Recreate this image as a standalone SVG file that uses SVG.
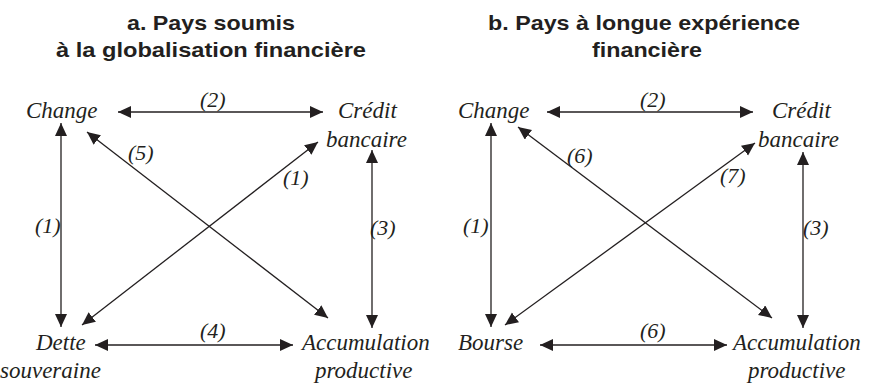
<svg xmlns="http://www.w3.org/2000/svg" width="869" height="384" viewBox="0 0 869 384">
<style>
.t{font-family:"Liberation Sans",Arial,sans-serif;font-weight:bold;font-size:21px;fill:#231f20;text-anchor:middle}
.n{font-family:"Liberation Serif","Times New Roman","DejaVu Serif",serif;font-style:italic;font-size:23px;fill:#231f20}
.l{font-family:"Liberation Serif","Times New Roman","DejaVu Serif",serif;font-style:italic;font-size:22px;fill:#231f20}
.c line{stroke:#231f20;stroke-width:1.3;fill:none;marker-start:url(#ah);marker-end:url(#ah)}
</style>
<defs>
<marker id="ah" markerUnits="userSpaceOnUse" markerWidth="14" markerHeight="13" refX="13" refY="6" orient="auto-start-reverse" viewBox="0 0 14 13">
<path d="M0,0 L13,6 L0,12 z" fill="#231f20"/>
</marker>
</defs>
<rect width="869" height="384" fill="#fff"/>
<g id="titles">
<text class="t" x="211" y="30" textLength="168" lengthAdjust="spacingAndGlyphs">a. Pays soumis</text>
<text class="t" x="211" y="57" textLength="310" lengthAdjust="spacingAndGlyphs">à la globalisation financière</text>
<text class="t" x="644" y="30" textLength="312" lengthAdjust="spacingAndGlyphs">b. Pays à longue expérience</text>
<text class="t" x="647" y="57" textLength="110" lengthAdjust="spacingAndGlyphs">financière</text>
</g>
<g id="a-change"><text class="n" x="26" y="118">Change</text></g>
<g id="a-credit"><text class="n" x="338" y="118">Crédit</text><text class="n" x="326" y="147">bancaire</text></g>
<g id="a-dette"><text class="n" x="36" y="350">Dette</text><text class="n" x="0" y="378">souveraine</text></g>
<g id="a-accum"><text class="n" x="302" y="350">Accumulation</text><text class="n" x="315" y="378">productive</text></g>
<g id="b-change"><text class="n" x="458" y="118">Change</text></g>
<g id="b-credit"><text class="n" x="772" y="118">Crédit</text><text class="n" x="758" y="147">bancaire</text></g>
<g id="b-bourse"><text class="n" x="458" y="350">Bourse</text></g>
<g id="b-accum"><text class="n" x="733" y="350">Accumulation</text><text class="n" x="748" y="378">productive</text></g>
<g id="connectors" class="c">
<line x1="118" y1="112" x2="323" y2="112"/>
<line x1="61" y1="123" x2="61" y2="327"/>
<line x1="87" y1="132" x2="328" y2="318"/>
<line x1="318" y1="142" x2="82" y2="325"/>
<line x1="372" y1="150" x2="372" y2="328"/>
<line x1="95" y1="345" x2="293" y2="345"/>
<line x1="547" y1="112" x2="753" y2="112"/>
<line x1="491" y1="123" x2="491" y2="327"/>
<line x1="518" y1="127" x2="772" y2="318"/>
<line x1="755" y1="143" x2="505" y2="325"/>
<line x1="803" y1="152" x2="803" y2="328"/>
<line x1="540" y1="345" x2="727" y2="345"/>
</g>
<g id="labels">
<text class="l" x="200" y="107">(2)</text>
<text class="l" x="35" y="233">(1)</text>
<text class="l" x="128" y="160">(5)</text>
<text class="l" x="283" y="185">(1)</text>
<text class="l" x="370" y="235">(3)</text>
<text class="l" x="200" y="338">(4)</text>
<text class="l" x="640" y="107">(2)</text>
<text class="l" x="463" y="233">(1)</text>
<text class="l" x="567" y="163">(6)</text>
<text class="l" x="720" y="183">(7)</text>
<text class="l" x="803" y="235">(3)</text>
<text class="l" x="640" y="338">(6)</text>
</g>
</svg>
